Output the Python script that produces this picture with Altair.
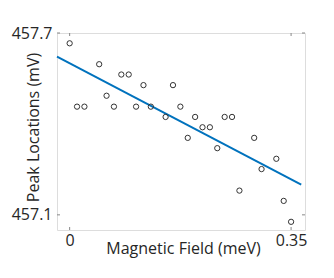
import altair as alt
import pandas as pd

# Data
field_step = 0.35 / 30
field_index = [0, 1, 2, 4, 5, 6, 7, 8, 9, 10, 11, 13, 14, 15, 16, 17, 18, 19, 20,
               21, 22, 23, 25, 26, 28, 29, 30]
peak_mv = [457.666, 457.457, 457.457, 457.597, 457.493, 457.457, 457.563, 457.563,
           457.457, 457.528, 457.457, 457.423, 457.528, 457.457, 457.354, 457.423,
           457.389, 457.389, 457.320, 457.423, 457.423, 457.180, 457.354, 457.251,
           457.285, 457.146, 457.077]
x_ticks = [0, 0.35]
x_tick_labels = ["0", "0.35"]
y_ticks = [457.1, 457.7]

magnetic_field = [round(i * field_step, 5) for i in field_index]
df = pd.DataFrame({"field": magnetic_field, "peak": peak_mv})
xt = pd.DataFrame({"t": x_ticks})
yt = pd.DataFrame({"t": y_ticks})

W, H = 248, 197
FONT = "Open Sans"
xscale = alt.Scale(domain=[-0.02, 0.372], nice=False, zero=False)
yscale = alt.Scale(domain=[457.05, 457.7], nice=False, zero=False)

label_expr = "datum.value < 0.1 ? '" + x_tick_labels[0] + "' : '" + x_tick_labels[1] + "'"

xaxis = alt.Axis(values=x_ticks, labelExpr=label_expr, tickSize=0, domain=False,
                 grid=False, labelPadding=2, labelFontSize=16, labelFont=FONT,
                 labelColor="#262626", title="Magnetic Field (meV)", titleFontSize=16,
                 titleFont=FONT, titleFontWeight="normal", titleColor="#262626",
                 titleX=126, titleY=23, titleBaseline="alphabetic", titleAlign="center")
yaxis = alt.Axis(values=y_ticks, format=".1f", tickSize=0, domain=False, grid=False,
                 labelPadding=5, labelFontSize=16, labelFont=FONT, labelColor="#262626",
                 labelBaseline="middle",
                 title="Peak Locations (mV)", titleFontSize=16, titleFont=FONT,
                 titleFontWeight="normal", titleColor="#262626", titleAngle=-90,
                 titleX=-24, titleY=94, titleBaseline="middle", titleAlign="center")

points = alt.Chart(df).mark_point(shape="circle", filled=False, color="#333333",
                                  size=28, strokeWidth=1, opacity=1).encode(
    x=alt.X("field:Q", scale=xscale, axis=xaxis),
    y=alt.Y("peak:Q", scale=yscale, axis=yaxis),
)

fit = alt.Chart(df).transform_regression(
    "field", "peak", extent=[-0.02, 0.366]
).mark_line(color="#0072BD", strokeWidth=2).encode(
    x=alt.X("field:Q", scale=xscale),
    y=alt.Y("peak:Q", scale=yscale),
)

tick_color = "#888888"
xt_bot = alt.Chart(xt).mark_rule(color=tick_color, strokeWidth=1).encode(
    x=alt.X("t:Q", scale=xscale), y=alt.value(H), y2=alt.value(H - 3))
xt_top = alt.Chart(xt).mark_rule(color=tick_color, strokeWidth=1).encode(
    x=alt.X("t:Q", scale=xscale), y=alt.value(0), y2=alt.value(3))
yt_left = alt.Chart(yt).mark_rule(color=tick_color, strokeWidth=1).encode(
    y=alt.Y("t:Q", scale=yscale), x=alt.value(0), x2=alt.value(3))
yt_right = alt.Chart(yt).mark_rule(color=tick_color, strokeWidth=1).encode(
    y=alt.Y("t:Q", scale=yscale), x=alt.value(W), x2=alt.value(W - 3))

chart = alt.layer(xt_bot, xt_top, yt_left, yt_right, fit, points).properties(
    width=W, height=H,
    autosize=alt.AutoSizeParams(type="none"),
    padding={"left": 49, "top": 25, "right": 21, "bottom": 40},
).configure_view(stroke="#8c8c8c", strokeWidth=1).configure(background="white")

chart.save("out.html", embed_options={"renderer": "svg", "actions": False})
